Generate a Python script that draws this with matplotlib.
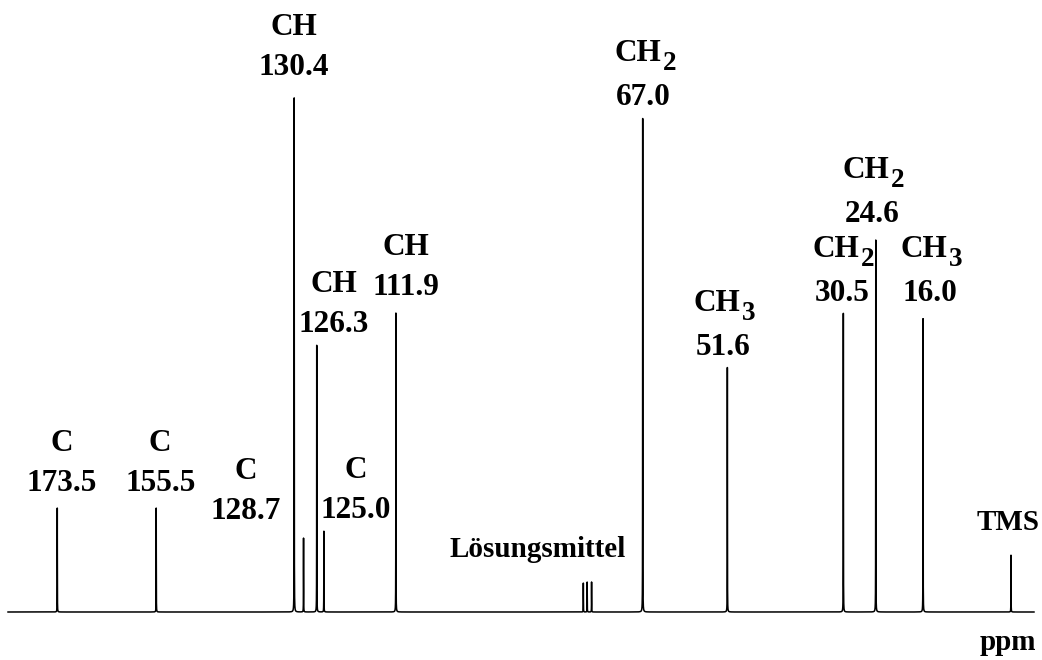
import numpy as np
import matplotlib
matplotlib.use('Agg')
import matplotlib.pyplot as plt
from matplotlib.transforms import offset_copy

plt.rcParams['font.family'] = ['Liberation Serif', 'DejaVu Serif']
plt.rcParams['font.weight'] = 'bold'

# 13C signals: shift (ppm), intensity (arbitrary), group
shifts = [173.5, 155.5, 130.4, 128.7, 126.3, 125.0, 111.9, 67.0, 51.6, 30.5, 24.6, 16.0]
heights = [104, 104, 515, 74, 267, 81, 299, 494, 245, 299, 372, 294]
groups = ['C', 'C', 'CH', 'C', 'CH', 'C', 'CH', 'CH', 'CH', 'CH', 'CH', 'CH']
subscripts = ['', '', '', '', '', '', '', '2', '3', '2', '2', '3']
labels = ['173.5', '155.5', '130.4', '128.7', '126.3', '125.0', '111.9', '67.0', '51.6', '30.5', '24.6', '16.0']

# solvent (CDCl3 triplet) and reference
solvent_shifts = [77.8, 77.1, 76.3]
solvent_heights = [29, 30, 30]
tms_shift = 0.0
tms_height = 57

# label placement (pixel offsets from peak top): dx, gap
label_dx = [4, 4, 0, -58, 17, 32, 10, 1, -4, -1, -4, 7]
label_gap = [17, 17, 22, 19, 13, 13, 18, 13, 12, 12, 18, 17]

# build spectrum from lorentzian lines
x = np.linspace(182.46, -4.18, 120000)
all_shifts = shifts + solvent_shifts + [tms_shift]
all_heights = heights + solvent_heights + [tms_height]
gamma = 0.013
y = np.zeros_like(x)
for s, h in zip(all_shifts, all_heights):
    y += h * gamma**2 / (gamma**2 + (x - s)**2)

fig = plt.figure(figsize=(10.42, 6.6), dpi=100)
ax = fig.add_axes([0, 0, 1, 1])
ax.plot(x, y, color='black', lw=1.1)
ax.set_xlim(183.92, -5.64)
ax.set_ylim(-48, 612)
ax.axis('off')


def put(s, h, txt, dx, dy, size, ha='center'):
    tr = offset_copy(ax.transData, fig=fig, x=dx, y=dy, units='dots')
    ax.text(s, h, txt, transform=tr, ha=ha, va='baseline', fontsize=size)


for s, h, g, sub, lab, dx, gap in zip(shifts, heights, groups, subscripts,
                                       labels, label_dx, label_gap):
    put(s, h, lab, dx, gap, 22.5)
    if sub:
        # CH with a large, dropped subscript digit
        put(s, h, g, dx - 6, gap + 44, 22.5)
        put(s, h, sub, dx + 19, gap + 35, 19.5, ha='left')
    else:
        put(s, h, g, dx, gap + 40, 22.5)

put(tms_shift, tms_height, 'TMS', -3, 25, 21)
put(solvent_shifts[1], max(solvent_heights), 'Lösungsmittel', -50, 25, 21)

ax.text(0.9674, 0.015, 'ppm', transform=ax.transAxes, ha='center', va='baseline', fontsize=21)

fig.savefig('out.png', dpi=100)
